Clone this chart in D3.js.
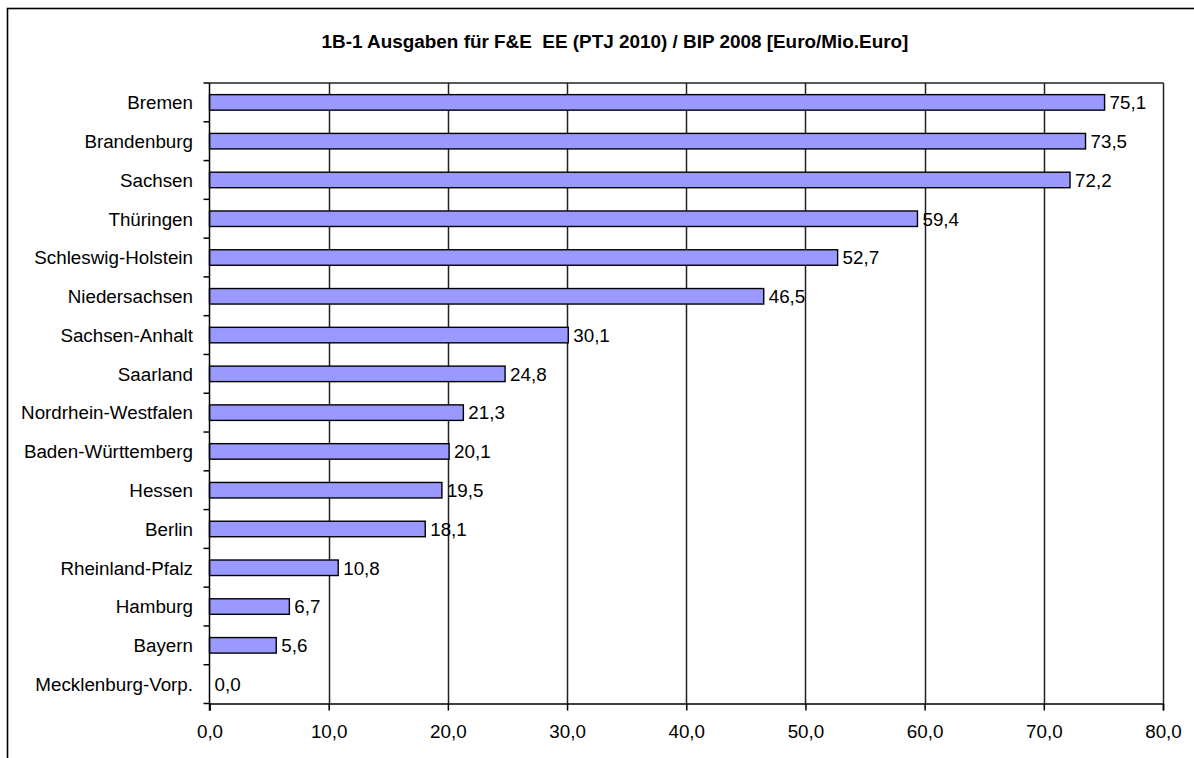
<!DOCTYPE html>
<html>
<head>
<meta charset="utf-8">
<script src="https://cdn.jsdelivr.net/npm/d3@7"></script>
<style>
  html, body { margin: 0; padding: 0; background: #fff; }
  svg { display: block; font-family: "Liberation Sans", Arial, sans-serif; }
</style>
</head>
<body>
<svg id="chart" width="1194" height="758"></svg>
<script>
const titleText = "1B-1 Ausgaben für F&E  EE (PTJ 2010) / BIP 2008 [Euro/Mio.Euro]";
const categories = ["Bremen", "Brandenburg", "Sachsen", "Thüringen", "Schleswig-Holstein",
  "Niedersachsen", "Sachsen-Anhalt", "Saarland", "Nordrhein-Westfalen", "Baden-Württemberg",
  "Hessen", "Berlin", "Rheinland-Pfalz", "Hamburg", "Bayern", "Mecklenburg-Vorp."];
const values = [75.1, 73.5, 72.2, 59.4, 52.7, 46.5, 30.1, 24.8, 21.3, 20.1, 19.5, 18.1, 10.8, 6.7, 5.6, 0.0];
const xTicks = [0, 10, 20, 30, 40, 50, 60, 70, 80];

const fmt = v => v.toFixed(1).replace(".", ",");
const FS = 18.8;

const svg = d3.select("#chart");
const plot = { left: 209.5, right: 1163, top: 83, bottom: 703.5 };

const x = d3.scaleLinear().domain([0, 80]).range([plot.left, plot.right]);
const y = d3.scaleBand().domain(categories).range([plot.top, plot.bottom])
  .paddingInner(0.6).paddingOuter(0.3);

// outer border (extends past the window on right/bottom)
svg.append("rect").attr("x", 7.5).attr("y", 8.5).attr("width", 1300).attr("height", 900)
  .attr("fill", "none").attr("stroke", "#000").attr("stroke-width", 1.6);

// title
svg.append("text").attr("x", 615).attr("y", 48).attr("text-anchor", "middle")
  .attr("font-weight", "bold").attr("font-size", 18.9).attr("fill", "#000")
  .style("white-space", "pre").attr("xml:space", "preserve").text(titleText);

// gridlines (vertical) incl. right frame
svg.append("g").selectAll("line").data(xTicks.slice(1)).join("line")
  .attr("x1", d => Math.round(x(d)) + 0.5).attr("x2", d => Math.round(x(d)) + 0.5)
  .attr("y1", plot.top).attr("y2", plot.bottom)
  .attr("stroke", "#222").attr("stroke-width", 1.5);

// top frame
svg.append("line").attr("x1", plot.left).attr("x2", x(80) + 0.5)
  .attr("y1", plot.top).attr("y2", plot.top)
  .attr("stroke", "#222").attr("stroke-width", 1.5);

// bars
svg.append("g").selectAll("rect").data(values).join("rect")
  .attr("x", x(0)).attr("y", (d, i) => y(categories[i]))
  .attr("width", d => x(d) - x(0)).attr("height", y.bandwidth())
  .attr("fill", "#9999FF").attr("stroke", "#000").attr("stroke-width", 1.4)
  .attr("display", d => d > 0 ? null : "none");

// value labels
svg.append("g").selectAll("text").data(values).join("text")
  .attr("x", d => x(d) + 5).attr("y", (d, i) => y(categories[i]) + y.bandwidth() / 2)
  .attr("dy", "0.36em").attr("font-size", FS).attr("fill", "#000")
  .text(d => fmt(d));

// x axis
const xAxis = d3.axisBottom(x).tickValues(xTicks).tickFormat(fmt).tickSize(7).tickPadding(14);
const gx = svg.append("g").attr("transform", `translate(0,${plot.bottom})`).call(xAxis);
gx.select(".domain").attr("stroke", "#000").attr("stroke-width", 1.5);
gx.selectAll(".tick line").attr("stroke", "#000").attr("stroke-width", 1.5);
gx.selectAll(".tick text").attr("font-size", FS).attr("fill", "#000")
  .attr("font-family", "Liberation Sans, Arial, sans-serif");

// y axis line
svg.append("line").attr("x1", plot.left).attr("x2", plot.left)
  .attr("y1", plot.top).attr("y2", plot.bottom + 7)
  .attr("stroke", "#000").attr("stroke-width", 1.5);

// y ticks at category boundaries
const step = y.step();
const boundaries = d3.range(categories.length + 1).map(i => plot.top + i * step);
svg.append("g").selectAll("line").data(boundaries).join("line")
  .attr("x1", plot.left - 6).attr("x2", plot.left)
  .attr("y1", d => d).attr("y2", d => d)
  .attr("stroke", "#000").attr("stroke-width", 1.5);

// category labels
svg.append("g").selectAll("text").data(categories).join("text")
  .attr("x", 193).attr("y", d => y(d) + y.bandwidth() / 2)
  .attr("dy", "0.36em").attr("text-anchor", "end")
  .attr("font-size", FS).attr("fill", "#000").text(d => d);
</script>
</body>
</html>
